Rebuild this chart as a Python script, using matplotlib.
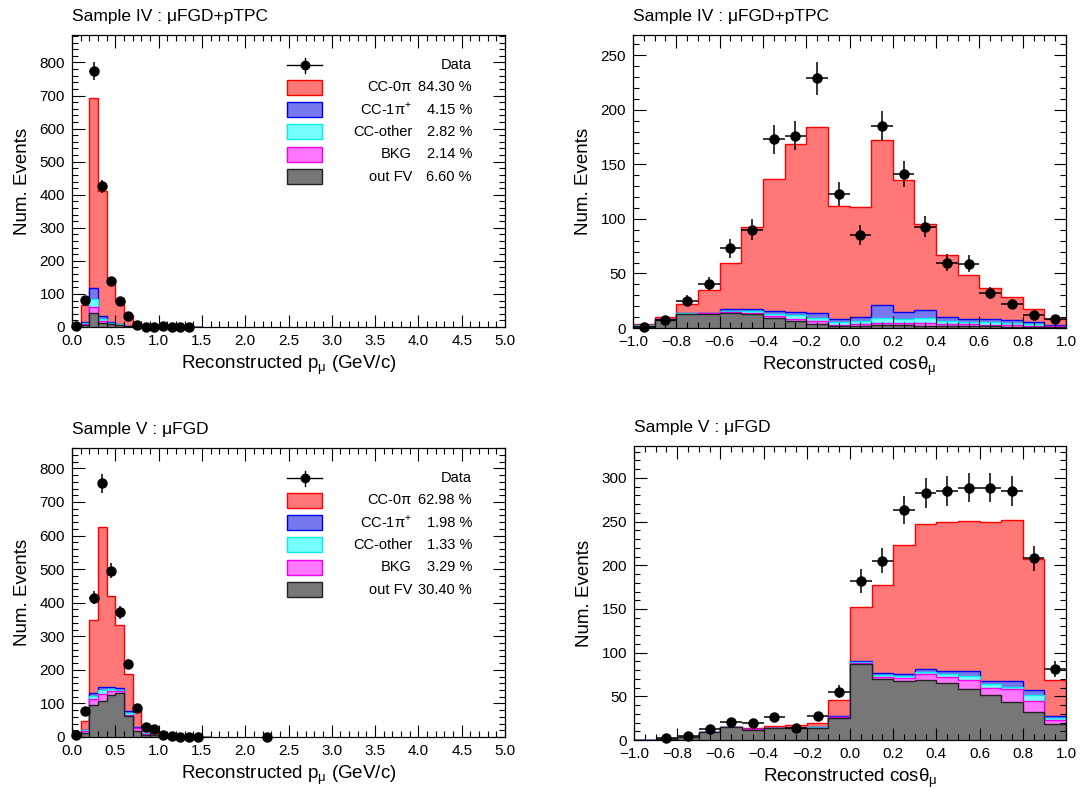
import numpy as np
import matplotlib.pyplot as plt
from matplotlib.patches import Rectangle
from matplotlib.lines import Line2D
from matplotlib.ticker import MultipleLocator

plt.rcParams['font.family'] = ['Liberation Sans', 'DejaVu Sans']

# ---- binning
p_edges = np.linspace(0.0, 2.3, 24)     # 0.1 GeV/c bins
c_edges = np.linspace(-1.0, 1.0, 21)    # 0.1 bins in cos

# ---- Sample IV, p_mu  (stack: out FV, BKG, CC-other, CC-1pi, CC-0pi)
outfv_p4 = [1, 6, 43, 13, 8, 5, 2, 0.8, 0.4, 0.3, 0.2, 0.1, 0.05, 0.05, 0.05]
bkg_p4 = [0.3, 3, 18, 6, 2, 1.5, 0.8, 0.3, 0.2, 0.1, 0.05, 0.05, 0.02, 0.02, 0.02]
other_p4 = [0.3, 3, 24, 6, 2.5, 1.5, 0.6, 0.2, 0.1, 0.05, 0.03, 0.03, 0.02, 0.02, 0.02]
cc1pi_p4 = [0.4, 2, 33, 8, 2.5, 2, 0.6, 0.2, 0.1, 0.05, 0.02, 0.02, 0.01, 0.01, 0.01]
cc0pi_p4 = [1, 54, 576, 377, 130, 73, 32, 8.5, 2.2, 1.5, 0.7, 0.8, 0.4, 0.4, 0.2]
data_p4 = [2, 83, 775, 425, 140, 80, 33, 7, 0, 1, 2, 1, 0, 1]

# ---- Sample IV, cos theta
outfv_c4 = [2, 7, 13, 13, 14, 13, 9.6, 6.5, 4, 1.5, 2, 3, 2.5, 2, 1.5, 1.5, 1.5, 1.2, 1, 0.8]
bkg_c4 = [0.2, 0.3, 0.2, 0.3, 1, 1, 1.5, 2, 2, 1.5, 2, 2, 2, 2.5, 2, 1.8, 1.6, 1.5, 1.2, 0.6]
other_c4 = [0.2, 0.3, 0.1, 0.3, 1, 1.2, 2, 3, 3.5, 2.6, 2.5, 4.6, 4, 4.5, 2.5, 2.3, 2, 1.8, 1.5, 0.7]
cc1pi_c4 = [0.2, 0.4, 0.2, 0.4, 1.5, 1.8, 2.9, 3.5, 4.5, 3, 3.5, 11.4, 6.5, 7.5, 4, 3, 2.9, 2.5, 1.8, 0.9]
cc0pi_c4 = [0.9, 2, 8.5, 21, 42.5, 76, 121, 154, 170, 103.4, 101, 151, 121, 78.5, 56.6, 40.4, 29, 21, 12, 5.3]
data_c4 = [1, 7, 25, 40, 73, 90, 173, 176, 229, 123, 85, 185, 141, 93, 60, 59, 32, 22, 12, 8]

# ---- Sample V, p_mu
outfv_p5 = [1, 12, 94, 107, 125, 130, 62, 18, 7, 5, 1, 0.6, 0.4, 0.3, 0.2, 0.1]
bkg_p5 = [1.5, 6, 20, 20, 13, 7, 5, 8, 3, 0.6, 0.3, 0.2, 0.15, 0.1, 0.05, 0.05]
other_p5 = [0.2, 1.5, 9, 12, 6, 4, 4, 2, 1, 0.2, 0.1, 0.1, 0.05, 0.05, 0.03, 0.03]
cc1pi_p5 = [0.3, 1.5, 8, 10, 6, 5, 5, 2, 1, 0.2, 0.1, 0.1, 0.1, 0.05, 0.02, 0.02]
cc0pi_p5 = [2, 26, 218, 476, 271, 189, 113, 51, 24, 6, 1.5, 1, 0.8, 0.5, 0.5, 0.3]
data_p5 = [5, 78, 415, 755, 495, 371, 217, 85, 31, 23, 6, 4, 0, 1, 0,
           np.nan, np.nan, np.nan, np.nan, np.nan, np.nan, np.nan, 0]

# ---- Sample V, cos theta
outfv_c5 = [0.3, 1, 3.5, 8.8, 14.5, 12, 13.8, 13.8, 13.8, 24.8, 86.5, 69.6, 67, 69, 65, 58.5, 52, 43, 32.5, 18]
bkg_c5 = [0, 0, 0.1, 0.1, 0.2, 0.3, 0.3, 0.3, 0.4, 1, 1.5, 2.4, 4, 6.7, 7, 10.5, 8, 15.5, 12.5, 4.6]
other_c5 = [0, 0, 0.05, 0.05, 0.1, 0.1, 0.1, 0.1, 0.2, 0.7, 1, 2, 2, 2.3, 3.7, 4, 4, 2.5, 6, 2.4]
cc1pi_c5 = [0, 0, 0.05, 0.05, 0.1, 0.1, 0.1, 0.1, 0.2, 1, 2, 3, 2.7, 3, 3, 5.7, 4, 6, 5.8, 2.5]
cc0pi_c5 = [0.2, 0.1, 0.3, 0.3, 0.4, 1.3, 2.1, 2.7, 5.2, 18.5, 61, 101, 147.3, 166.5, 171.3, 172.3, 182, 185, 150.2, 41.5]
data_c5 = [np.nan, 2, 5, 13, 21, 20, 26, 14, 27, 55, 182, 205, 263, 283, 285, 289, 289, 285, 208, 81]

# ---- legend text
leg_names = ["CC-0π", r"CC-1π$^{\mathregular{+}}$", "CC-other", "BKG", "out FV"]
pct_iv = ["84.30 %", "4.15 %", "2.82 %", "2.14 %", "6.60 %"]
pct_v = ["62.98 %", "1.98 %", "1.33 %", "3.29 %", "30.40 %"]

# bottom -> top : out FV, BKG, CC-other, CC-1pi, CC-0pi
fills = ['#777777', '#ff77ff', '#77ffff', '#7777ee', '#ff7777']
lines = ['#222222', '#ee00ee', '#00eeee', '#0000ee', '#ff0000']
leg_fill = fills[::-1]
leg_line = lines[::-1]

fig = plt.figure(figsize=(10.81, 7.96), dpi=100)
W, H = 1081, 796


def make_ax(l, t, r, b):
    return fig.add_axes([l / W, 1 - b / H, (r - l) / W, (b - t) / H])


def panel(ax, edges, comps, data, title, xlabel, xmaj, xmin, ymaj, ymin, xlim):
    cum = np.zeros(len(comps[0]))
    tops = []
    for c in comps:
        cum = cum + np.asarray(c, float)
        tops.append(cum.copy())
    for top, fc, ec in reversed(list(zip(tops, fills, lines))):
        ax.stairs(top, edges[:len(top) + 1], baseline=0, fill=True,
                  facecolor=fc, edgecolor=ec, lw=1.0)
    d = np.asarray(data, float)
    centers = 0.5 * (edges[:-1] + edges[1:])[:len(d)]
    ok = ~np.isnan(d)
    half = 0.5 * (edges[1] - edges[0])
    ax.errorbar(centers[ok], d[ok], xerr=half, yerr=np.sqrt(d[ok]), fmt='o',
                color='k', ms=6.5, elinewidth=1.1, capsize=0, clip_on=False, zorder=5)
    ax.set_xlim(*xlim)
    ax.set_ylim(0, 1.1 * np.nanmax(d + np.sqrt(d)))
    ax.xaxis.set_major_locator(MultipleLocator(xmaj))
    ax.xaxis.set_minor_locator(MultipleLocator(xmin))
    ax.yaxis.set_major_locator(MultipleLocator(ymaj))
    ax.yaxis.set_minor_locator(MultipleLocator(ymin))
    ax.tick_params(which='both', direction='in', top=True, right=True, labelsize=11, pad=5)
    ax.tick_params(which='major', length=9, width=0.8)
    ax.tick_params(which='minor', length=4.5, width=0.8)
    for s in ax.spines.values():
        s.set_linewidth(0.9)
    ax.set_title(title, loc='left', fontsize=12.5, pad=10)
    ax.set_xlabel(xlabel, fontsize=13.5, labelpad=4)
    ax.set_ylabel("Num. Events", fontsize=13.5, labelpad=6)


def legend(ax, pcts):
    hpx = ax.get_position().height * H
    wpx = ax.get_position().width * W
    x0 = 215 / wpx
    bw = 35 / wpx
    bh = 15 / hpx
    xname = 340 / wpx
    xpct = 400 / wpx
    rows = [1 - (30 + 22.3 * i) / hpx for i in range(6)]
    tr = ax.transAxes
    ax.add_line(Line2D([x0, x0 + bw], [rows[0], rows[0]], color='k', lw=1, transform=tr))
    ax.add_line(Line2D([x0 + bw / 2] * 2, [rows[0] - 0.5 * bh, rows[0] + 0.5 * bh],
                       color='k', lw=1, transform=tr))
    ax.plot([x0 + bw / 2], [rows[0]], 'o', color='k', ms=6, transform=tr)
    ax.text(xpct, rows[0], "Data", ha='right', va='center', fontsize=10.5, transform=tr)
    for i in range(5):
        y = rows[i + 1]
        ax.add_patch(Rectangle((x0, y - bh / 2), bw, bh, facecolor=leg_fill[i],
                               edgecolor=leg_line[i], lw=1, transform=tr))
        ax.text(xname, y, leg_names[i], ha='right', va='center', fontsize=10.5, transform=tr)
        ax.text(xpct, y, pcts[i], ha='right', va='center', fontsize=10.5, transform=tr)


xl_p = r"Reconstructed p$_{\mathregular{μ}}$ (GeV/c)"
xl_c = r"Reconstructed cosθ$_{\mathregular{μ}}$"

ax1 = make_ax(72, 35, 505, 327)
panel(ax1, p_edges, [outfv_p4, bkg_p4, other_p4, cc1pi_p4, cc0pi_p4], data_p4,
      "Sample IV : μFGD+pTPC", xl_p, 0.5, 0.1, 100, 20, (0, 5))
legend(ax1, pct_iv)

ax2 = make_ax(633, 35, 1066, 328)
panel(ax2, c_edges, [outfv_c4, bkg_c4, other_c4, cc1pi_c4, cc0pi_c4], data_c4,
      "Sample IV : μFGD+pTPC", xl_c, 0.2, 0.05, 50, 10, (-1, 1))

ax3 = make_ax(72, 448, 505, 737)
panel(ax3, p_edges, [outfv_p5, bkg_p5, other_p5, cc1pi_p5, cc0pi_p5], data_p5,
      "Sample V : μFGD", xl_p, 0.5, 0.1, 100, 20, (0, 5))
legend(ax3, pct_v)

ax4 = make_ax(634, 446, 1066, 740)
panel(ax4, c_edges, [outfv_c5, bkg_c5, other_c5, cc1pi_c5, cc0pi_c5], data_c5,
      "Sample V : μFGD", xl_c, 0.2, 0.05, 50, 10, (-1, 1))

fig.savefig("out.png", dpi=100)
